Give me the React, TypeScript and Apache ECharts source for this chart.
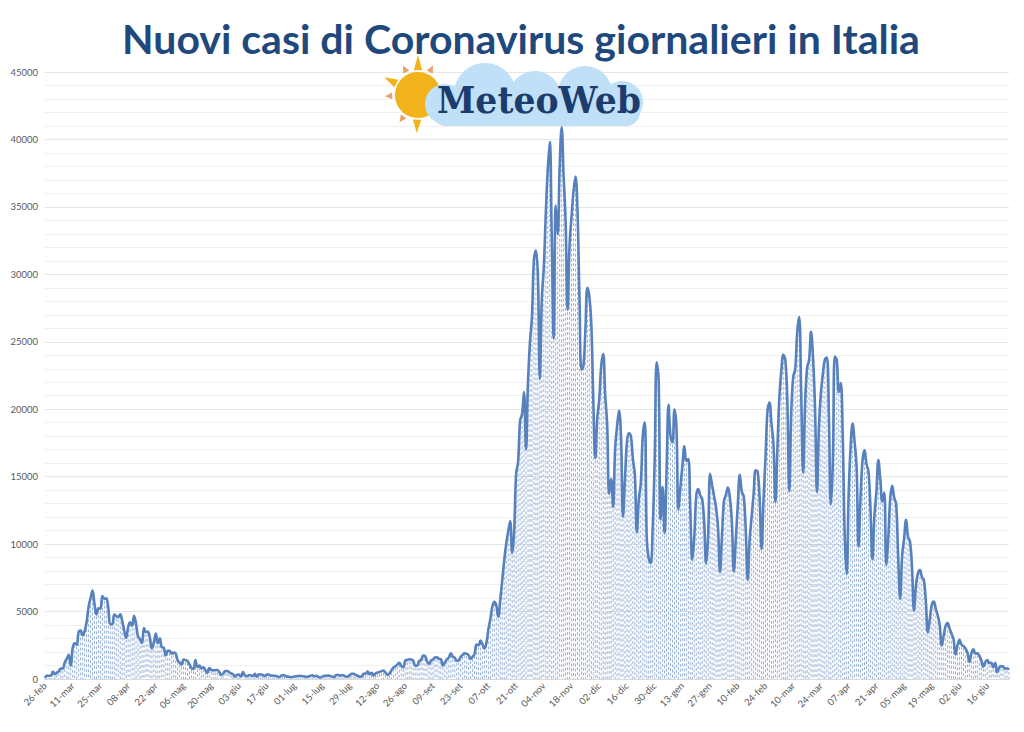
import React, { useEffect, useRef } from "react";
import * as echarts from "echarts";

const TITLE = "Nuovi casi di Coronavirus giornalieri in Italia";
const MONTH_NAMES = ["gen", "feb", "mar", "apr", "mag", "giu", "lug", "ago", "set", "ott", "nov", "dic"];

// Daily new cases, one array per month (first day of each array given in MONTH_BLOCKS)
const feb2020 = [78, 250, 238, 240];
const mar2020 = [561, 347, 466, 587, 769, 778, 1247, 1492, 1797, 977, 2313, 2651, 2547, 3497, 3590, 3233, 3526, 4207, 5322, 5986, 6557, 5560, 4789, 5249, 5210, 6153, 5959, 5974, 5217, 4050, 4053];
const apr2020 = [4782, 4668, 4585, 4805, 4316, 3599, 3039, 3836, 4204, 3951, 4694, 4092, 3153, 2972, 2667, 3786, 3493, 3491, 3047, 2256, 2729, 3370, 2646, 3021, 2357, 2324, 1739, 2091, 2086, 1872];
const may2020 = [1965, 1900, 1389, 1221, 1075, 1444, 1401, 1327, 1083, 802, 744, 1402, 888, 992, 789, 875, 675, 451, 813, 665, 642, 652, 669, 531, 300, 397, 584, 593, 516, 416, 355];
const jun2020 = [178, 318, 321, 177, 518, 270, 197, 280, 283, 202, 379, 163, 346, 338, 301, 210, 329, 333, 251, 262, 224, 218, 122, 190, 296, 259, 175, 174, 126, 142];
const jul2020 = [187, 201, 223, 235, 192, 208, 138, 193, 229, 276, 188, 234, 169, 114, 162, 230, 233, 249, 219, 190, 129, 282, 306, 252, 275, 255, 170, 181, 289, 386, 379];
const aug2020 = [295, 239, 159, 190, 384, 402, 552, 347, 463, 259, 412, 481, 523, 574, 629, 479, 320, 403, 642, 845, 947, 1071, 1210, 953, 878, 1367, 1411, 1462, 1444, 1365, 996];
const sep2020 = [978, 1326, 1397, 1733, 1695, 1297, 1108, 1370, 1434, 1597, 1616, 1501, 1458, 1008, 1229, 1452, 1585, 1907, 1638, 1587, 1350, 1392, 1640, 1786, 1912, 1869, 1766, 1494, 1648, 1851];
const oct2020 = [2548, 2499, 2844, 2578, 2257, 2677, 3678, 4458, 5372, 5724, 5456, 4619, 5901, 7332, 8804, 10010, 10925, 11705, 9338, 10874, 15199, 16079, 19143, 19644, 21273, 17012, 21994, 24991, 26831, 31084, 31758];
const nov2020 = [29907, 22253, 28244, 30550, 34505, 37809, 39811, 32616, 25271, 35098, 32961, 37978, 40902, 37255, 33979, 27354, 32191, 34282, 36176, 37242, 34767, 28337, 22930, 23232, 25853, 29003, 28352, 26323, 20648, 16377];
const dec2020 = [19350, 20709, 23225, 24099, 21052, 18887, 13720, 14842, 12756, 16999, 18727, 19903, 17938, 12030, 14844, 17572, 18236, 17992, 16308, 15104, 10872, 13318, 14522, 18040, 19037, 10407, 8913, 8585, 11212, 16202, 23477];
const jan2021 = [22211, 11831, 14245, 10800, 15378, 20331, 18020, 17533, 19978, 18627, 12532, 14242, 15774, 17246, 16146, 16310, 12545, 8824, 10497, 13571, 14078, 13633, 13331, 11629, 8561, 10593, 15204, 14372, 13574, 12715, 11252];
const feb2021 = [7925, 10630, 13189, 13659, 14218, 13442, 11641, 7970, 10404, 12956, 15146, 13908, 13532, 11068, 7351, 10386, 12074, 13762, 15479, 15370, 13452, 9630, 13314, 16424, 19886, 20499, 18916, 17455];
const mar2021 = [13114, 17083, 20884, 22865, 24036, 23641, 20765, 13902, 19749, 22409, 22970, 25673, 26824, 21315, 15267, 20396, 23059, 23649, 25735, 23832, 20159, 13846, 18765, 21267, 22658, 23696, 23839, 19611, 12916, 16017, 23904];
const apr2021 = [23649, 21261, 21932, 18025, 10680, 7767, 13708, 17221, 18938, 17567, 15746, 9789, 13447, 16168, 16974, 15943, 15370, 12694, 8864, 12074, 13844, 16232, 14761, 13158, 13817, 8444, 10404, 13385, 14320, 13446];
const may2021 = [12965, 9148, 5948, 9116, 10404, 11807, 10554, 10176, 8292, 5080, 6946, 7852, 8085, 7567, 7338, 5753, 3455, 4452, 5506, 5741, 5218, 4717, 3995, 2490, 3224, 3937, 4147, 3738, 3351, 2949, 1820];
const jun2021 = [2483, 2897, 2557, 2436, 2275, 1963, 1273, 1896, 2199, 1901, 1901, 1723, 1390, 907, 1255, 1400, 1197, 1197, 880, 1200, 495, 835, 951, 927, 753, 794, 679];

const MONTH_BLOCKS: [number, number, number[]][] = [
  [1, 26, feb2020], [2, 1, mar2020], [3, 1, apr2020], [4, 1, may2020], [5, 1, jun2020],
  [6, 1, jul2020], [7, 1, aug2020], [8, 1, sep2020], [9, 1, oct2020], [10, 1, nov2020],
  [11, 1, dec2020], [0, 1, jan2021], [1, 1, feb2021], [2, 1, mar2021], [3, 1, apr2021],
  [4, 1, may2021], [5, 1, jun2021],
];

const categories: string[] = [];
const values: number[] = [];
MONTH_BLOCKS.forEach(([m, start, arr]) => {
  arr.forEach((v, i) => {
    const d = start + i;
    categories.push((d < 10 ? "0" + d : "" + d) + "-" + MONTH_NAMES[m]);
    values.push(v);
  });
});

const Y_MAX = 45000;
const Y_STEP = 5000;

function measure(text: string, font: string): number {
  const c = document.createElement("canvas");
  const ctx = c.getContext("2d");
  if (!ctx) return 0;
  ctx.font = font;
  return ctx.measureText(text).width;
}

export default function App() {
  const ref = useRef<HTMLDivElement>(null);
  useEffect(() => {
    if (!ref.current) return;
    const chart = echarts.init(ref.current, undefined, { renderer: "svg" });

    const titleFont = "bold 40px Lato";
    const titleW = measure(TITLE, titleFont) || 900;
    const titleScale = 798 / titleW;
    const logoFont = "bold 37px 'DejaVu Serif'";
    const logoW = measure("MeteoWeb", logoFont) || 200;
    const logoScale = 204 / logoW;

    const sunC = [418, 95];
    const ray = (angDeg: number, r0: number, r1: number, half: number, fill: string) => {
      const a = (angDeg * Math.PI) / 180;
      const b1 = a - half, b2 = a + half;
      return {
        type: "polygon",
        shape: {
          points: [
            [sunC[0] + r0 * Math.cos(b1), sunC[1] + r0 * Math.sin(b1)],
            [sunC[0] + r1 * Math.cos(a), sunC[1] + r1 * Math.sin(a)],
            [sunC[0] + r0 * Math.cos(b2), sunC[1] + r0 * Math.sin(b2)],
          ],
        },
        style: { fill },
        z: 10,
      };
    };
    const cloudFill = "#bfe0f6";
    const sunFill = "#f2b21c";
    const rayOrange = "#e8a066";

    chart.setOption({
      animation: false,
      backgroundColor: "#ffffff",
      grid: { left: 45, right: 15, top: 72, bottom: 53, containLabel: false },
      xAxis: {
        type: "category",
        data: categories,
        boundaryGap: false,
        axisLine: { show: true, lineStyle: { color: "#d9d9d9" } },
        axisTick: { show: false },
        axisLabel: {
          interval: 13,
          rotate: 45,
          fontSize: 9.5,
          color: "#595959",
          fontFamily: "Lato",
          margin: 5,
        },
        splitLine: { show: false },
      },
      yAxis: {
        type: "value",
        min: 0,
        max: Y_MAX,
        interval: Y_STEP,
        axisLine: { show: false },
        axisTick: { show: false },
        axisLabel: {
          fontSize: 9.5,
          color: "#595959",
          fontFamily: "Lato",
          margin: 7,
          formatter: (v: number) => String(v),
        },
        splitLine: { show: true, lineStyle: { color: "#e6e6e6", width: 1 } },
        minorTick: { show: false, splitNumber: 5 },
        minorSplitLine: { show: true, lineStyle: { color: "#f0f0f0", width: 1 } },
      },
      series: [
        {
          type: "custom",
          name: "drop",
          data: values.map((v, i) => [i, v]),
          z: 1,
          silent: true,
          renderItem: (params: any, api: any) => {
            const i = api.value(0);
            const v = api.value(1);
            const top = api.coord([i, v]);
            const bot = api.coord([i, 0]);
            return {
              type: "line",
              shape: { x1: top[0], y1: top[1] + 2, x2: bot[0], y2: bot[1] },
              style: { stroke: "#9ab3da", lineWidth: 1, lineDash: [3, 2] },
            };
          },
        },
        {
          type: "line",
          name: "Nuovi casi",
          data: values,
          showSymbol: false,
          smooth: 0.4,
          z: 3,
          lineStyle: { color: "#5681bc", width: 2.6 },
        },
      ],
      graphic: [
        {
          type: "text",
          x: 521,
          y: 19,
          scaleX: titleScale,
          style: {
            text: TITLE,
            font: titleFont,
            fill: "#1f497d",
            align: "center",
            verticalAlign: "top",
          },
          z: 20,
        },
        // sun
        {
          type: "circle",
          shape: { cx: sunC[0], cy: sunC[1], r: 23 },
          style: { fill: sunFill },
          z: 10,
        },
        ray(-90, 25, 40, 0.17, sunFill),
        ray(-152, 25, 38, 0.17, sunFill),
        ray(92, 25, 38, 0.17, sunFill),
        ray(-63, 26, 33, 0.13, rayOrange),
        ray(-117, 26, 33, 0.13, rayOrange),
        ray(178, 26, 33, 0.13, rayOrange),
        ray(124, 26, 33, 0.13, rayOrange),
        // cloud
        { type: "circle", shape: { cx: 445, cy: 104, r: 20 }, style: { fill: cloudFill }, z: 11 },
        { type: "circle", shape: { cx: 485, cy: 94, r: 31 }, style: { fill: cloudFill }, z: 11 },
        { type: "circle", shape: { cx: 535, cy: 97, r: 26 }, style: { fill: cloudFill }, z: 11 },
        { type: "circle", shape: { cx: 585, cy: 93, r: 27 }, style: { fill: cloudFill }, z: 11 },
        { type: "circle", shape: { cx: 622, cy: 102, r: 21 }, style: { fill: cloudFill }, z: 11 },
        { type: "rect", shape: { x: 432, y: 98, width: 208, height: 28, r: 14 }, style: { fill: cloudFill }, z: 11 },
        {
          type: "text",
          x: 437,
          y: 100,
          scaleX: logoScale,
          style: {
            text: "MeteoWeb",
            font: logoFont,
            fill: "#1d3c6e",
            align: "left",
            verticalAlign: "middle",
          },
          z: 12,
        },
      ],
    });
    return () => chart.dispose();
  }, []);
  return (
    <div
      ref={ref}
      style={{ position: "fixed", left: 0, top: 0, width: 1024, height: 732, background: "#fff" }}
    />
  );
}
